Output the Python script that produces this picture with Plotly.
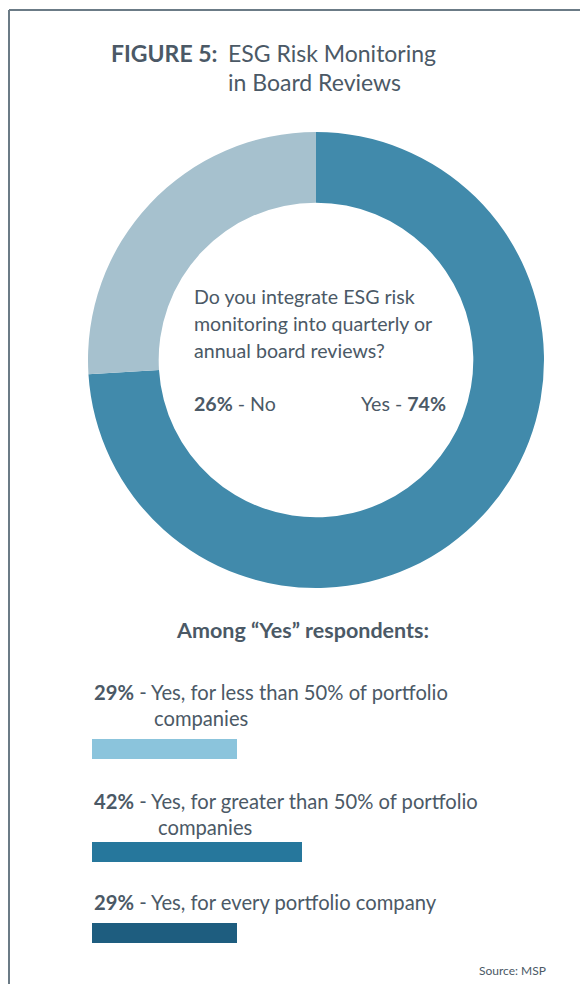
import plotly.graph_objects as go

W, H = 580, 984

# ---- data ----
donut_labels = ["Yes", "No"]
donut_values = [74, 26]
donut_colors = ["#418aab", "#a6c1ce"]

bar_labels = [
    "Yes, for less than 50% of portfolio<br>companies",
    "Yes, for greater than 50% of portfolio<br>companies",
    "Yes, for every portfolio company",
]
bar_values = [29, 42, 29]
bar_colors = ["#8bc4dc", "#26779c", "#1e5d7f"]

TEXT = "#4b5966"
FONT = "Lato"

def px(x):
    return x / W

def py(y):
    return 1 - y / H

fig = go.Figure()

fig.add_trace(go.Pie(
    labels=donut_labels, values=donut_values,
    marker=dict(colors=donut_colors, line=dict(width=0)),
    hole=0.69, sort=False, direction="clockwise", rotation=0,
    textinfo="none", hoverinfo="label+percent", showlegend=False,
    domain=dict(x=[px(88), px(544)], y=[py(588), py(132)]),
))

bar_rows = [(739, 759), (842, 862), (923, 943)]
for i, (v, c, (y0, y1)) in enumerate(zip(bar_values, bar_colors, bar_rows)):
    n = "" if i == 0 else str(i + 1)
    fig.add_trace(go.Bar(
        x=[v], y=[0], orientation="h", width=1,
        marker=dict(color=c, line=dict(width=0)),
        xaxis="x" + n, yaxis="y" + n, showlegend=False,
        hovertemplate=f"{v}%<extra></extra>",
    ))
    fig.layout["xaxis" + n] = dict(domain=[px(92), 1], range=[0, (W - 92) / 5],
                                   visible=False, fixedrange=True, anchor="y" + n)
    fig.layout["yaxis" + n] = dict(domain=[py(y1), py(y0)], range=[-0.5, 0.5],
                                   visible=False, fixedrange=True, anchor="x" + n)

annotations = []

def add_text(text, x, y, size, anchor="left", color=TEXT):
    annotations.append(dict(
        text=text, x=px(x), y=py(y), xref="paper", yref="paper",
        xanchor=anchor, yanchor="middle", showarrow=False, align="left",
        font=dict(family=FONT, size=size, color=color),
    ))

# title
add_text("<b>FIGURE 5:</b>", 109, 53, 23)
add_text("ESG Risk Monitoring", 226, 53, 23)
add_text("in Board Reviews", 226, 82, 23)

# donut centre text
add_text("Do you integrate ESG risk", 192, 297, 19.6)
add_text("monitoring into quarterly or", 192, 323, 19.6)
add_text("annual board reviews?", 192, 350, 19.6)
add_text(f"<b>{donut_values[1]}%</b> - {donut_labels[1]}", 192, 403, 19.6)
add_text(f"{donut_labels[0]} - <b>{donut_values[0]}%</b>", 448, 403, 19.6, anchor="right")

# sub section
add_text("<b>Among “Yes” respondents:</b>", 302, 630, 21.5, anchor="center")

label_rows = [(692, 718), (801, 827), (902, None)]
indent = [152, 156, None]
for i, (v, lab) in enumerate(zip(bar_values, bar_labels)):
    parts = lab.split("<br>")
    add_text(f"<b>{v}%</b> - {parts[0]}", 92, label_rows[i][0], 20.2)
    if len(parts) > 1:
        add_text(parts[1], indent[i], label_rows[i][1], 20.2)

add_text("Source: MSP", 548, 970, 12, anchor="right")

fig.update_layout(
    width=W, height=H, margin=dict(l=0, r=0, t=0, b=0),
    paper_bgcolor="white", plot_bgcolor="white",
    annotations=annotations,
    shapes=[
        dict(type="line", xref="paper", yref="paper", x0=px(9), x1=1, y0=py(10), y1=py(10),
             line=dict(color="#6b7b86", width=2)),
        dict(type="line", xref="paper", yref="paper", x0=px(9), x1=px(9), y0=py(10), y1=0,
             line=dict(color="#6b7b86", width=2)),
    ],
)

fig.write_html("out.html")
